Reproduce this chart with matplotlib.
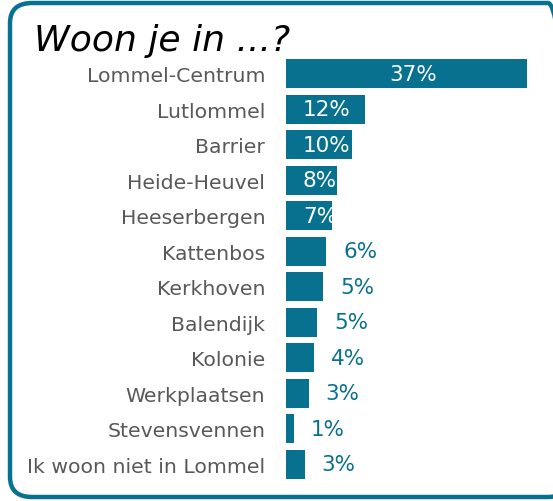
import matplotlib
matplotlib.use('Agg')
import matplotlib.pyplot as plt
from matplotlib.patches import FancyBboxPatch

# data
categories = ['Lommel-Centrum', 'Lutlommel', 'Barrier', 'Heide-Heuvel',
              'Heeserbergen', 'Kattenbos', 'Kerkhoven', 'Balendijk',
              'Kolonie', 'Werkplaatsen', 'Stevensvennen',
              'Ik woon niet in Lommel']
values = [37.0, 12.1, 10.2, 7.9, 7.0, 6.2, 5.7, 4.8, 4.3, 3.5, 1.2, 2.9]
labels = ['37%', '12%', '10%', '8%', '7%', '6%', '5%', '5%', '4%', '3%',
          '1%', '3%']
n_inside = 5

teal = '#08718F'
grey = '#595959'
font = 'DejaVu Sans'

W, H = 553, 502
fig = plt.figure(figsize=(W / 100, H / 100), dpi=100)

# rounded frame (runs off the right edge like the original)
frame = FancyBboxPatch((10 / W, 4 / H), 560 / W, 494 / H,
                       boxstyle='round,pad=0,rounding_size=0.04',
                       transform=fig.transFigure, fill=False,
                       edgecolor=teal, linewidth=3.2, clip_on=False)
fig.patches.append(frame)

fig.text(34 / W, 1 - 51 / H, 'Woon je in ...?', fontsize=26,
         style='italic', color='black', va='baseline', ha='left',
         family=font)

top_px, bot_px = 56.85, 483.05
left_px = 286
ax = fig.add_axes([left_px / W, 1 - bot_px / H, (W - left_px) / W,
                   (bot_px - top_px) / H])
pos = list(range(len(categories)))
ax.barh(pos, values, height=0.82, color=teal)
ax.set_xlim(0, (W - left_px) / 6.51)
ax.set_ylim(len(categories) - 0.5, -0.5)
ax.set_yticks(pos)
ax.set_yticklabels(categories, fontsize=14.7, color=grey, family=font)
ax.tick_params(axis='y', length=0, pad=15)
ax.set_xticks([])
for s in ax.spines.values():
    s.set_visible(False)

for i, (v, lab) in enumerate(zip(values, labels)):
    if i == 0:
        ax.text(v / 2 + 1, i, lab, color='white', fontsize=15.5,
                ha='center', va='center', family=font)
    elif i < n_inside:
        ax.text(2.6, i, lab, color='white', fontsize=15.5,
                ha='left', va='center', family=font)
    else:
        ax.text(v + 2.6, i, lab, color=teal, fontsize=15.5,
                ha='left', va='center', family=font)

fig.savefig('out.png', dpi=100)
